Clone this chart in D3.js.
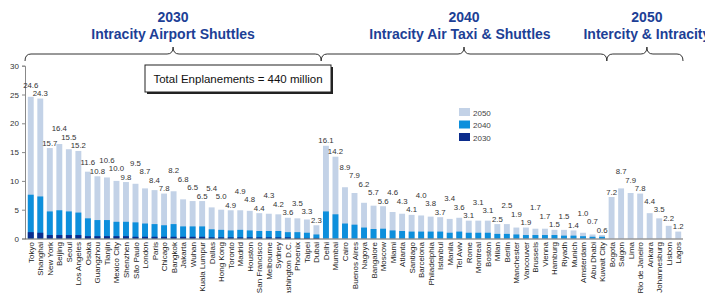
<!DOCTYPE html>
<html><head><meta charset="utf-8">
<script src="https://cdn.jsdelivr.net/npm/d3@7"></script>
<style>
body{margin:0;background:#fff;}
svg{display:block;font-family:Arial,"Liberation Sans",sans-serif;}
</style>
</head><body><svg id="c" width="705" height="293"></svg>
<script>
const cities = ["Tokyo","Shanghai","New York","Beijing","Seoul","Los Angeles","Osaka","Guangzhou","Tianjin","Mexico City","Shenzhen","São Paulo","London","Paris","Chicago","Bangkok","Jakarta","Wuhan","Kuala Lumpur","Dallas","Hong Kong","Toronto","Madrid","Houston","San Francisco","Melbourne","Sydney","Washington D.C.","Phoenix","Taipei","Dubai",
"Delhi","Mumbai","Cairo","Buenos Aires","Nagoya","Bangalore","Moscow","Miami","Atlanta","Santiago","Barcelona","Philadelphia","Istanbul","Manila","Tel Aviv","Rome","Montreal","Boston","Milan","Berlin","Manchester","Vancouver","Brussels","Vienna","Hamburg","Riyadh","Munich","Amsterdam","Abu Dhabi","Kuwait City",
"Bogota","Saigon","Lima","Rio de Janeiro","Ankara","Johannesburg","Lisbon","Lagos"];
const v2050 = [24.6,24.3,15.7,16.4,15.5,15.2,11.6,10.8,10.6,10.0,9.8,9.5,8.7,8.4,7.8,8.2,6.8,6.5,6.5,5.4,5.0,4.9,4.9,4.8,4.4,4.3,4.2,3.6,3.5,3.3,2.3,
16.1,14.2,8.9,7.9,6.2,5.7,5.6,4.6,4.3,4.1,4.0,3.8,3.7,3.4,3.6,3.1,3.1,3.1,2.5,2.5,1.9,1.9,1.7,1.7,1.5,1.5,1.4,1.0,0.7,0.6,
7.2,8.7,7.9,7.8,4.4,3.5,2.2,1.2];
const v2040 = [7.6,7.3,4.7,4.9,4.7,4.5,3.5,3.2,3.2,2.9,2.9,2.8,2.6,2.5,2.3,2.5,2.1,2.1,2.1,1.6,1.5,1.4,1.5,1.4,1.3,1.3,1.3,1.1,1.1,1.0,0.7,
4.7,4.2,2.6,2.4,1.9,1.65,1.7,1.4,1.3,1.2,1.2,1.2,1.2,1.0,1.2,1.0,1.0,1.0,0.8,0.8,0.7,0.6,0.6,0.6,0.6,0.5,0.5,0.4,0.3,0.3,
0,0,0,0,0,0,0,0];
const v2030 = [1.1,1.0,0.6,0.6,0.6,0.6,0.4,0.4,0.4,0.4,0.4,0.3,0.3,0.3,0.3,0.3,0.3,0.3,0.3,0.2,0.2,0.2,0.2,0.2,0.2,0.2,0.2,0.2,0.1,0.1,0.1,
0,0,0,0,0,0,0,0,0,0,0,0,0,0,0,0,0,0,0,0,0,0,0,0,0,0,0,0,0,0,
0,0,0,0,0,0,0,0];
const groupYears = ["2030","2040","2050"];
const groupTitles = ["Intracity Airport Shuttles","Intracity Air Taxi & Shuttles","Intercity & Intracity"];
const groupFirst = ["Tokyo","Delhi","Bogota"];
const groupLast = ["Dubai","Kuwait City","Lagos"];
const yTicks = [0,5,10,15,20,25,30];
const legendKeys = ["2050","2040","2030"];
const boxText = "Total Enplanements = 440 million";

const colors = {"2050":"#c3d2e7","2040":"#0d8fdc","2030":"#0b2c8c"};
const titleColor = "#1d3f96";

const svg = d3.select("#c");
const x = d3.scaleBand().domain(cities).range([26,683]).paddingInner(0.38).paddingOuter(0.19);
const y = d3.scaleLinear().domain([0,30]).range([238.5,65.7]);
const data = cities.map((c,i)=>({c, a:v2050[i], b:v2040[i], d:v2030[i]}));

// y axis
const yAxis = svg.append("g").attr("transform","translate(25,0)")
  .call(d3.axisLeft(y).tickValues(yTicks).tickSize(3).tickPadding(3));
yAxis.select(".domain").attr("stroke","#888");
yAxis.selectAll(".tick line").attr("stroke","#888");
yAxis.selectAll("text").attr("font-size","8px").attr("fill","#333").attr("font-family","Arial, 'Liberation Sans', sans-serif");

// bars
const bars = svg.append("g");
[["a","2050"],["b","2040"],["d","2030"]].forEach(([k,yr])=>{
  bars.selectAll("rect."+k).data(data.filter(d=>d[k]>0)).join("rect")
    .attr("class",k)
    .attr("x",d=>x(d.c)).attr("width",x.bandwidth())
    .attr("y",d=>y(d[k])).attr("height",d=>y(0)-y(d[k]))
    .attr("fill",colors[yr]);
});

// baseline
svg.append("line").attr("x1",25).attr("x2",683).attr("y1",y(0)+0.5).attr("y2",y(0)+0.5).attr("stroke","#666").attr("stroke-width",1);

// category labels
svg.append("g").selectAll("text").data(data).join("text")
  .attr("transform",d=>`translate(${x(d.c)+x.bandwidth()/2+3},242) rotate(-90)`)
  .attr("text-anchor","end").attr("font-size","8px").attr("fill","#222")
  .text(d=>d.c);

// value labels with simple collision avoidance (right to left)
const lg = svg.append("g");
const placed = [];
for (let i=data.length-1;i>=0;i--){
  const d = data[i];
  const cx = x(d.c)+x.bandwidth()/2;
  const t = lg.append("text").attr("x",cx).attr("text-anchor","middle")
    .attr("font-size","7.8px").attr("fill","#333").text(d.a.toFixed(1));
  const w = t.node().getComputedTextLength();
  let base = y(d.a)-2.5;
  const h = 7.5;
  const prev = placed.length? placed[placed.length-1] : null;
  if (prev){
    const hOver = Math.abs(cx-prev.cx) < (w+prev.w)/2 + 0.5;
    const vOver = !(base < prev.base - h || base - h > prev.base);
    if (hOver && vOver) base = prev.base - h - 1;
  }
  t.attr("y",base);
  const gap = y(d.a) - base;
  if (gap > 19){
    lg.append("line").attr("x1",cx).attr("x2",cx).attr("y1",base+2).attr("y2",y(d.a)-1)
      .attr("stroke","#333").attr("stroke-width",0.8);
  }
  placed.push({cx,w,base});
}

// legend
const leg = svg.append("g").attr("transform","translate(459,108)");
legendKeys.forEach((k,i)=>{
  leg.append("rect").attr("x",0).attr("y",i*12.5).attr("width",11).attr("height",8).attr("fill",colors[k]);
  leg.append("text").attr("x",14).attr("y",i*12.5+7.5).attr("font-size","8px").attr("fill","#444").text(k);
});

// total box
svg.append("rect").attr("x",147).attr("y",67).attr("width",186).attr("height",27).attr("fill","#222");
svg.append("rect").attr("x",145).attr("y",65).attr("width",186).attr("height",27).attr("fill","#fff").attr("stroke","#222").attr("stroke-width",1);
svg.append("text").attr("x",238).attr("y",83).attr("text-anchor","middle").attr("font-size","11.5px").attr("fill","#111").text(boxText);

// group headers with braces
const step = x.step();
groupYears.forEach((yr,gi)=>{
  const x1 = gi===0 ? 25 : x(groupFirst[gi]) - (step-x.bandwidth())/2;
  const x2 = x(groupLast[gi]) + x.bandwidth() + (step-x.bandwidth())/2;
  const xm = gi===2 ? (x1+x2)/2 + 2 : (x1+x2)/2;
  const yb = 54, r = 6;
  const p = `M${x1},61 Q${x1},${yb} ${x1+r},${yb} L${xm-r},${yb} Q${xm},${yb} ${xm},${yb-7} Q${xm},${yb} ${xm+r},${yb} L${x2-r},${yb} Q${x2},${yb} ${x2},61`;
  svg.append("path").attr("d",p).attr("fill","none").attr("stroke","#333").attr("stroke-width",1);
  const tg = svg.append("g").attr("font-family","'Liberation Sans Narrow','Arial Narrow',Arial,sans-serif")
    .attr("font-weight","bold").attr("fill",titleColor).attr("text-anchor","middle");
  tg.append("text").attr("x",xm).attr("y",22).attr("font-size","14px").text(yr);
  tg.append("text").attr("x",xm - (gi===1?4:0)).attr("y",39).attr("font-size","14px").text(groupTitles[gi]);
});
</script>
</body></html>
